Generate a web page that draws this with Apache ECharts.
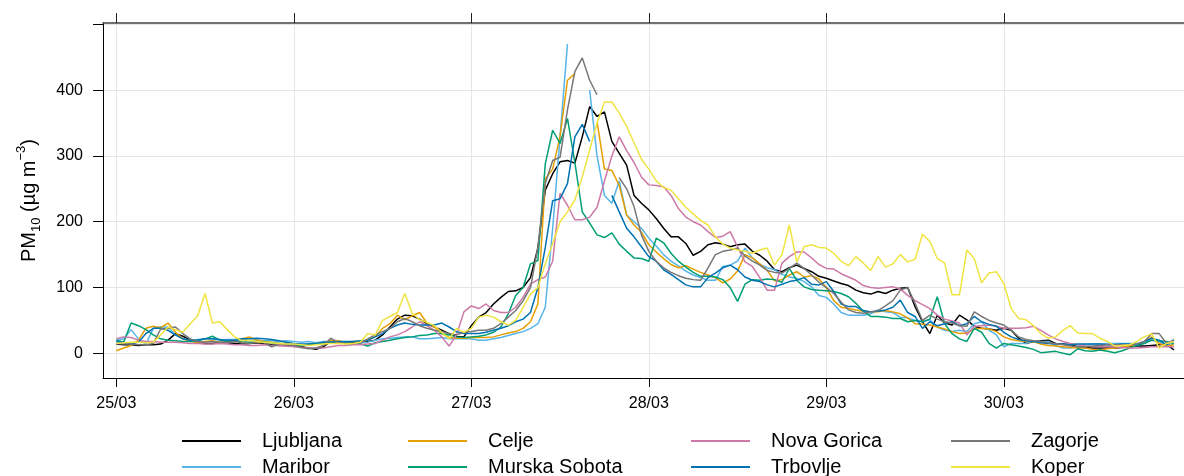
<!DOCTYPE html>
<html><head><meta charset="utf-8">
<script src="https://cdn.jsdelivr.net/npm/echarts@6/dist/echarts.min.js"></script>
<style>html,body{margin:0;padding:0;background:#fff}#c{width:1184px;height:476px}</style>
</head><body><div id="c"></div>
<script>
// Hourly PM10 values, starting 25/03 00:00 (index = hour)
const stations = ['Ljubljana','Maribor','Celje','Murska Sobota','Nova Gorica','Trbovlje','Zagorje','Koper'];
const tickHours = [0,24,48,72,96,120];
const tickLabels = ['25/03','26/03','27/03','28/03','29/03','30/03'];
const yTicks = [0,100,200,300,400,500];
const yLabels = [0,100,200,300,400];

const ljubljana = [14,13,13,12,13,13,14,20,30,26, 20,16,15,15,16,16,15,14,15,16, 15,13,12,12,12,10,8,6,10,18,
 17,17,16,16,18,20,28,40,52,58, 57,52,45,40,35,30,25,25,42,55, 62,75,85,94,95,100,115,160,248,273,
 291,293,289,329,375,360,367,322,304,286, 240,228,218,205,190,177,177,167,149,155, 165,168,166,162,165,166,155,149,140,127,
 124,130,134,129,124,117,114,110,106,103, 96,92,90,94,91,96,99,100,71,48, 30,58,46,43,58,51,41,38,37,35,
 38,35,23,15,18,19,20,15,14,13, 10,9,8,8,8,8,9,10,11,11, 12,13,14,5];
const maribor = [20,22,36,22,14,38,40,40,28,22, 20,21,22,22,20,21,21,22,20,20, 19,19,18,19,18,17,18,16,18,18,
 17,15,14,16,17,20,22,23,24,25, 25,22,22,23,24,22,22,22,22,20, 20,22,24,27,30,33,38,45,70,190,
 330,470,null,null,400,300,240,228,262,210, 200,190,175,163,150,140,133,125,119,115, 111,111,132,134,140,160,145,135,130,127,
 120,116,114,109,101,88,85,75,62,58, 58,58,60,66,63,62,55,54,50,48, 51,40,35,33,35,33,45,48,35,28,
 10,15,15,15,19,18,18,12,8,8, 11,13,14,14,15,15,15,15,15,18, 20,18,13,14];
const celje = [4,8,12,20,38,41,39,46,32,22, 18,17,18,19,17,18,19,22,25,20, 18,17,15,15,14,12,13,14,15,20,
 19,17,18,18,20,25,38,45,58,51, 57,62,46,40,30,24,23,23,24,24, 24,25,28,31,33,38,48,75,265,280,
 330,415,425,null,null,352,280,278,255,210, 195,184,165,154,144,135,130,133,128,123, 119,115,107,113,125,150,145,136,126,110,
 112,119,124,116,118,113,100,80,70,68, 66,64,63,63,65,63,60,54,45,44, 43,40,37,33,30,31,37,38,37,33,
 25,21,19,18,18,14,12,11,10,9, 8,8,6,5,7,8,10,11,13,18, 25,15,11,13];
const murskaSobota = [20,17,46,42,36,28,22,20,19,18, 18,19,22,26,20,18,19,18,17,18, 17,16,15,14,13,12,14,15,16,17,
 17,16,15,14,11,16,18,20,22,24, 25,27,28,30,30,28,25,24,25,26, 28,32,40,60,88,100,136,141,288,339,
 319,357,290,215,198,180,176,183,166,155, 145,144,140,175,168,152,140,131,123,117, 117,116,112,100,79,105,112,111,113,112,
 108,129,111,101,97,96,95,94,91,86, 76,64,56,56,55,53,53,48,50,48, 52,86,45,30,22,18,38,32,15,8,
 15,13,11,9,6,1,2,3,0,-2, 7,4,3,5,3,1,4,8,12,15, 20,19,18,15];
const novaGorica = [22,25,24,20,18,18,17,17,17,16, 15,15,14,14,15,14,13,13,12,12, 13,12,12,11,10,9,8,8,8,10,
 12,12,13,13,14,15,20,25,28,33, 40,48,42,35,25,11,28,63,72,68, 75,65,62,62,70,85,105,112,116,140,
 243,225,203,203,207,222,262,300,329,308, 290,268,256,255,253,240,220,207,200,195, 185,176,178,185,162,139,132,115,96,96,
 137,147,154,154,145,135,129,128,121,116, 111,103,100,99,100,101,98,88,80,74, 68,58,52,49,46,28,41,42,43,41,
 38,38,38,39,41,35,28,22,18,15, 13,11,10,10,10,10,9,8,8,9, 10,10,10,10];
const trbovlje = [18,16,14,17,30,38,38,35,28,22, 20,20,22,22,21,20,20,22,22,23, 22,21,19,17,15,14,14,14,17,17,
 18,18,18,19,20,25,30,38,43,46, 44,43,43,43,46,40,33,30,30,30, 32,35,38,42,48,52,62,100,161,232,
 235,258,329,348,322,null,null,240,215,190, 177,162,147,140,127,120,112,104,101,101, 115,122,130,134,127,116,111,109,104,101,
 105,109,111,115,105,104,109,94,75,71, 71,65,63,64,66,70,81,62,56,38, 48,42,45,48,42,45,56,48,44,41,
 32,25,21,19,18,16,15,14,14,13, 14,14,14,14,13,13,14,14,13,18, 23,20,13,21];
const zagorje = [15,14,14,13,13,15,37,38,40,30, 22,18,17,18,17,17,18,16,15,17, 16,10,14,13,12,9,7,8,12,23,
 16,15,15,16,22,28,33,38,48,53, 48,42,38,35,33,30,28,32,33,35, 35,38,45,55,65,80,100,161,258,293,
 298,370,428,449,415,393,null,null,267,250, 223,180,155,140,130,123,118,114,112,111, 130,150,155,157,160,148,140,134,126,123,
 122,129,137,129,119,108,100,91,78,66, 62,61,63,65,72,80,96,100,76,50, 58,52,48,46,42,41,63,56,50,46,
 43,35,25,21,19,18,16,15,13,11, 10,10,11,12,13,13,13,13,14,18, 30,30,15,20];
const koper = [15,16,17,17,16,17,28,40,36,32, 45,57,91,46,48,36,25,19,20,18, 17,16,15,14,14,13,12,13,14,15,
 15,14,15,17,30,28,50,56,62,91, 61,51,47,42,32,22,38,32,38,55, 58,55,48,43,50,70,90,100,136,167,
 200,215,233,268,309,350,382,382,365,345, 320,295,280,262,252,248,235,222,212,202, 195,177,166,160,157,155,152,157,160,134,
 150,195,139,162,165,161,160,152,140,133, 147,137,126,147,131,136,150,139,143,181, 170,144,137,89,89,157,144,107,122,124,
 106,68,53,51,42,30,23,25,35,42, 31,30,30,23,18,11,12,13,18,25, 30,8,15,18];

const seriesValues = [ljubljana, maribor, celje, murskaSobota, novaGorica, trbovlje, zagorje, koper];
const colors = ['#000000','#56B4E9','#E69F00','#009E73','#CC79A7','#0072B2','#777777','#F0E442'];
const legendCols = [['Ljubljana','Maribor'],['Celje','Murska Sobota'],['Nova Gorica','Trbovlje'],['Zagorje','Koper']];
const legendLeft = [182, 408, 691, 951];

const FONT = '"Liberation Sans", Arial, Helvetica, sans-serif';
const chart = echarts.init(document.getElementById('c'), null, {renderer:'canvas'});

const xBase = {type:'value', min:-1.8, max:144.36};
const option = {
  animation:false,
  textStyle:{fontFamily:FONT},
  grid:{left:103, top:23, right:0, bottom:98, containLabel:false},
  xAxis:[
    Object.assign({}, xBase, {
      position:'bottom',
      axisLine:{show:true, onZero:false, lineStyle:{color:'#000', width:1}},
      axisTick:{show:true, inside:false, length:9, customValues:tickHours, lineStyle:{color:'#000', width:1}},
      axisLabel:{show:true, customValues:tickHours, margin:18, fontSize:16, color:'#000', fontFamily:FONT,
        formatter:function(v){ const i = tickHours.indexOf(Math.round(v)); return i>=0 ? tickLabels[i] : ''; }},
      splitLine:{show:true, lineStyle:{color:'#e5e5e5', width:1}}
    }),
    Object.assign({}, xBase, {
      position:'top',
      axisLine:{show:true, onZero:false, lineStyle:{color:'#444', width:1.5}},
      axisTick:{show:true, inside:false, length:10, customValues:tickHours, lineStyle:{color:'#222', width:1}},
      axisLabel:{show:false},
      splitLine:{show:false}
    })
  ],
  yAxis:{
    type:'value', min:-37.5, max:502,
    axisLine:{show:true, onZero:false, lineStyle:{color:'#000', width:1}},
    axisTick:{show:true, inside:false, length:10, customValues:yTicks, lineStyle:{color:'#000', width:1}},
    axisLabel:{show:true, customValues:yLabels, margin:20, fontSize:16, color:'#000', fontFamily:FONT},
    splitLine:{show:true, lineStyle:{color:'#e5e5e5', width:1}},
    name:'{m|PM}{s|10}{m| (µg m}{p|−3}{m|)}',
    nameLocation:'middle', nameRotate:90, nameGap:60,
    nameTextStyle:{rich:{
      m:{fontSize:20, fontFamily:FONT, color:'#000', lineHeight:28, verticalAlign:'middle'},
      s:{fontSize:13, fontFamily:FONT, color:'#000', lineHeight:28, verticalAlign:'bottom'},
      p:{fontSize:13, fontFamily:FONT, color:'#000', lineHeight:28, verticalAlign:'top'}
    }}
  },
  legend: legendCols.map(function(names, k){
    return {
      data:names.map(function(n){ return {name:n, icon:'rect'}; }),
      orient:'vertical', left:legendLeft[k], top:431, height:80, padding:0,
      itemWidth:59, itemHeight:2, itemGap:6, selectedMode:false,
      textStyle:{fontSize:20, color:'#000', fontFamily:FONT, lineHeight:20, padding:[0,0,0,16]}
    };
  }),
  series: stations.map(function(name, k){
    return {
      name:name, type:'line', xAxisIndex:0, yAxisIndex:0,
      symbol:'none', showSymbol:false, connectNulls:false, clip:true,
      color:colors[k],
      itemStyle:{color:colors[k]},
      lineStyle:{color:colors[k], width:1.5},
      emphasis:{disabled:true},
      data: seriesValues[k].map(function(v, i){ return [i, v === null ? '-' : v]; })
    };
  })
};
chart.setOption(option);
</script>
</body></html>
